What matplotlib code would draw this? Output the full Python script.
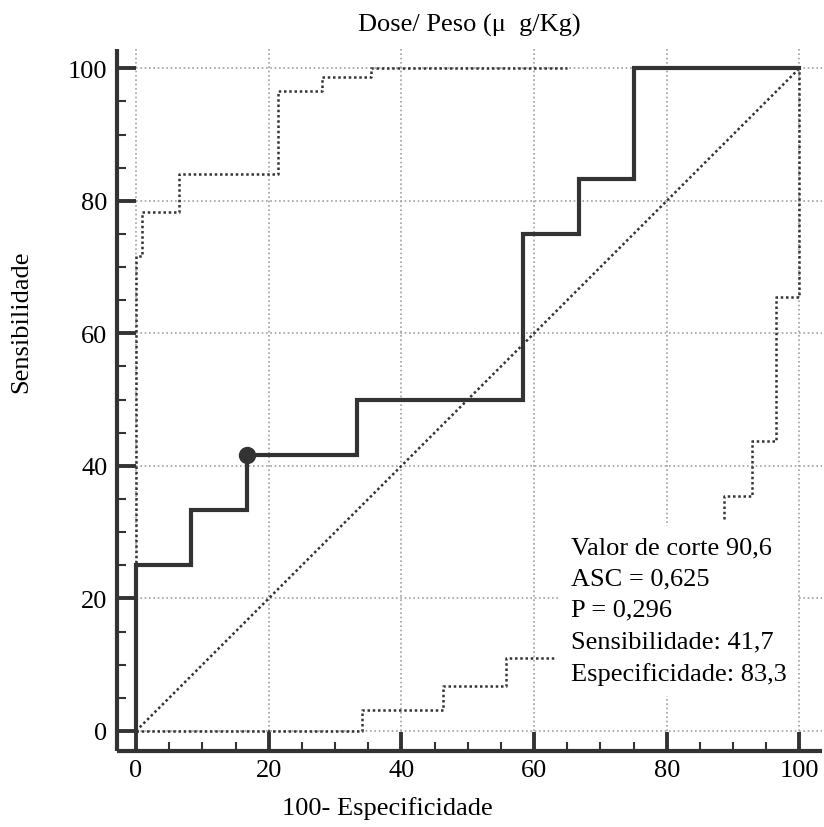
import matplotlib
matplotlib.use("Agg")
import matplotlib.pyplot as plt
from matplotlib.ticker import MultipleLocator

plt.rcParams['font.family'] = ['Liberation Serif', 'DejaVu Serif']
plt.rcParams['font.size'] = 19

DARK = '#333333'
GRID = '#a0a0a0'

# ROC curve (100-especificidade, sensibilidade)
roc_x = [0, 0, 8.3, 16.7, 33.3, 58.3, 66.7, 75, 100]
roc_y = [0, 25, 33.3, 41.7, 50, 75, 83.3, 100, 100]

# confidence bands
upper_x = [0, 0, 0.9, 6.5, 21.4, 28.1, 35.4, 65]
upper_y = [0, 71.6, 78.3, 84, 96.6, 98.7, 100, 100]
lower_a_x = [0, 34, 46.2, 55.8, 63.2]
lower_a_y = [0, 3.2, 6.8, 11, 11]
lower_b_x = [88.7, 92.9, 96.5, 100, 100]
lower_b_y = [32, 35.4, 43.7, 65.5, 100]

# cut-off point
cut_x = [16.7]
cut_y = [41.7]

major_ticks = [0, 20, 40, 60, 80, 100]

info = ["Valor de corte 90,6", "ASC = 0,625", "P = 0,296",
        "Sensibilidade: 41,7", "Especificidade: 83,3"]

fig = plt.figure(figsize=(8.24, 8.28), dpi=100)
ax = fig.add_axes([0.142, 0.0918, 0.8556, 0.8478])
xmin, xmax = -2.87, 103.4
ymin, ymax = -3.02, 102.9
ax.set_xlim(xmin, xmax)
ax.set_ylim(ymin, ymax)

# grid only over the data area
ax.vlines(major_ticks, 0, ymax, colors=GRID, linestyles=(0, (1, 1.6)), linewidth=1.2, zorder=1)
ax.hlines(major_ticks, 0, xmax, colors=GRID, linestyles=(0, (1, 1.6)), linewidth=1.2, zorder=1)

ax.plot([0, 100], [0, 100], color=DARK, linestyle=(0, (1, 1.1)), linewidth=1.8, zorder=2)
ax.plot(upper_x, upper_y, drawstyle='steps-post', color=DARK,
        linestyle=(0, (1, 1.1)), linewidth=1.8, zorder=2)
ax.plot(lower_a_x, lower_a_y, drawstyle='steps-post', color=DARK,
        linestyle=(0, (1, 1.1)), linewidth=1.8, zorder=2)
ax.plot(lower_b_x, lower_b_y, drawstyle='steps-pre', color=DARK,
        linestyle=(0, (1, 1.1)), linewidth=1.8, zorder=2)

ax.plot(roc_x, roc_y, drawstyle='steps-post', color=DARK, linewidth=3, zorder=3,
        solid_joinstyle='miter')
ax.plot(cut_x, cut_y, 'o', color=DARK, markersize=11.5, zorder=4)

ax.text(65.5, 29.4, "\n".join(info), ha='left', va='top', linespacing=1.55,
        fontsize=19, zorder=5,
        bbox=dict(boxstyle='square,pad=0.4', facecolor='white', edgecolor='none'))

for side in ['top', 'right']:
    ax.spines[side].set_visible(False)
for side in ['left', 'bottom']:
    ax.spines[side].set_linewidth(3)
    ax.spines[side].set_color(DARK)
    ax.spines[side].set_capstyle('butt')

ax.xaxis.set_major_locator(MultipleLocator(20))
ax.yaxis.set_major_locator(MultipleLocator(20))
ax.xaxis.set_minor_locator(MultipleLocator(5))
ax.yaxis.set_minor_locator(MultipleLocator(5))
ax.tick_params(which='major', direction='in', length=13.7, width=2.8, color=DARK, pad=7)
ax.tick_params(which='minor', direction='in', length=6.5, width=1.5, color=DARK)
ax.tick_params(axis='x', which='major', pad=6)

ax.set_xlabel("100- Especificidade")
ax.xaxis.set_label_coords(0.383, -0.064)
ax.set_ylabel("Sensibilidade")
ax.yaxis.set_label_coords(-0.12, 0.6125)
ax.set_title("Dose/ Peso (\u03bc  g/Kg)", pad=13, fontsize=19)

plt.savefig("out.png", dpi=100)
